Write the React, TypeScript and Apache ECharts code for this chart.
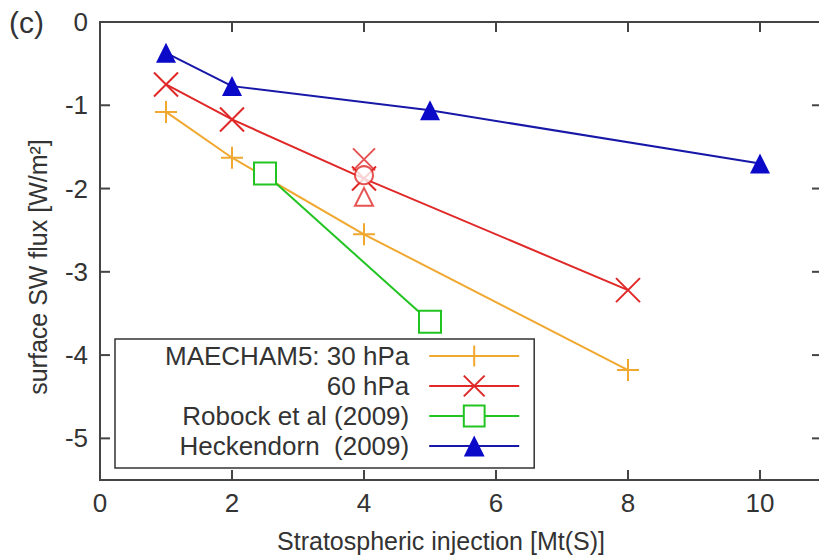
import React, { useEffect, useRef } from "react";
import * as echarts from "echarts";

const seriesNames = ["MAECHAM5: 30 hPa", "60 hPa", "Robock et al (2009)", "Heckendorn  (2009)"];
const hpa30: [number, number][] = [[1, -1.08], [2, -1.63], [4, -2.55], [8, -4.18]];
const hpa60: [number, number][] = [[1, -0.75], [2, -1.17], [4, -1.88], [8, -3.22]];
const robock: [number, number][] = [[2.5, -1.82], [5, -3.6]];
const heckendorn: [number, number][] = [[1, -0.37], [2, -0.77], [5, -1.06], [10, -1.7]];
const extraX: [number, number][] = [[4, -1.65]];
const extraCircle: [number, number][] = [[4, -1.84]];
const extraTriangle: [number, number][] = [[4, -2.1]];
const xTicks = [0, 2, 4, 6, 8, 10];
const yTicks = [0, -1, -2, -3, -4, -5];
const X_MIN = 0;
const X_MAX = 11;
const Y_MIN = -5.5;
const Y_MAX = 0;

const ORANGE = "#f0a830";
const RED = "#e02828";
const GREEN = "#22c422";
const BLUE = "#0a0ac8";
const AXIS = "#444";
const TXT = "#333";
const FONT = "Liberation Sans, Arial, sans-serif";

const PLUS = "path://M0,10L20,10M10,0L10,20";
const CROSS = "path://M0,0L20,20M20,0L0,20";
const TICK = 10;

export default function App() {
  const ref = useRef<HTMLDivElement>(null);
  useEffect(() => {
    if (!ref.current) return;
    const chart = echarts.init(ref.current, undefined, { renderer: "svg" });
    const tickStyle = { stroke: AXIS, lineWidth: 2 };
    chart.setOption({
      animation: false,
      backgroundColor: "#fff",
      textStyle: { fontFamily: FONT },
      grid: {
        left: 100,
        top: 22,
        width: 726,
        height: 458,
        outerBoundsMode: "none",
        containLabel: false,
        show: true,
        borderColor: AXIS,
        borderWidth: 2,
        backgroundColor: "transparent",
      },
      graphic: [
        {
          type: "text",
          left: 9,
          top: 7,
          style: { text: "(c)", fontSize: 30, fontFamily: FONT, fill: TXT },
        },
      ],
      xAxis: {
        type: "value",
        min: X_MIN,
        max: X_MAX,
        interval: 2,
        axisLine: { show: true, onZero: false, lineStyle: { color: AXIS, width: 2 } },
        axisTick: { show: false },
        splitLine: { show: false },
        name: "Stratospheric injection [Mt(S)]",
        nameLocation: "middle",
        nameGap: 48,
        nameTextStyle: { fontSize: 25, color: TXT, fontFamily: FONT, padding: [0, 44, 0, 0] },
        axisLabel: { fontSize: 26, color: TXT, margin: 10, showMaxLabel: false, fontFamily: FONT },
      },
      yAxis: {
        type: "value",
        min: Y_MIN,
        max: Y_MAX,
        splitNumber: 5,
        axisLine: { show: true, onZero: false, lineStyle: { color: AXIS, width: 2 } },
        axisTick: { show: false },
        splitLine: { show: false },
        name: "surface SW flux [W/m²]",
        nameLocation: "middle",
        nameGap: 50,
        nameTextStyle: { fontSize: 25, color: TXT, fontFamily: FONT, padding: [0, 32, 0, 0] },
        axisLabel: { fontSize: 26, color: TXT, margin: 12, showMinLabel: false, fontFamily: FONT },
      },
      legend: {
        orient: "vertical",
        left: 115,
        top: 339,
        align: "right",
        data: seriesNames,
        itemWidth: 90,
        itemHeight: 26,
        itemGap: 4,
        backgroundColor: "#fff",
        borderColor: "#333",
        borderWidth: 1.5,
        borderRadius: 0,
        padding: [4, 14, 9, 50],
        selectedMode: false,
        textStyle: { fontSize: 26, color: TXT, fontFamily: FONT, padding: [0, 15, 0, 0] },
        z: 10,
      },
      series: [
        {
          name: "x-ticks",
          type: "custom",
          silent: true,
          clip: false,
          data: xTicks.map((v) => [v, Y_MIN]),
          renderItem: (_p: any, api: any) => {
            const v = api.value(0);
            const b = api.coord([v, Y_MIN]);
            const t = api.coord([v, Y_MAX]);
            return {
              type: "group",
              children: [
                { type: "line", shape: { x1: b[0], y1: b[1], x2: b[0], y2: b[1] - TICK }, style: tickStyle },
                { type: "line", shape: { x1: t[0], y1: t[1], x2: t[0], y2: t[1] + TICK }, style: tickStyle },
              ],
            };
          },
          z: 1,
        },
        {
          name: "y-ticks",
          type: "custom",
          silent: true,
          clip: false,
          data: yTicks.map((v) => [X_MIN, v]),
          renderItem: (_p: any, api: any) => {
            const v = api.value(1);
            const l = api.coord([X_MIN, v]);
            const r = api.coord([X_MAX, v]);
            return {
              type: "group",
              children: [
                { type: "line", shape: { x1: l[0], y1: l[1], x2: l[0] + TICK, y2: l[1] }, style: tickStyle },
                { type: "line", shape: { x1: r[0], y1: r[1], x2: r[0] - 14, y2: r[1] }, style: tickStyle },
              ],
            };
          },
          z: 1,
        },
        {
          name: seriesNames[0],
          type: "line",
          data: hpa30,
          symbol: PLUS,
          symbolSize: 22,
          symbolKeepAspect: true,
          itemStyle: { color: "transparent", borderColor: ORANGE, borderWidth: 2 },
          lineStyle: { color: ORANGE, width: 2 },
          z: 3,
        },
        {
          name: seriesNames[1],
          type: "line",
          data: hpa60,
          symbol: CROSS,
          symbolSize: 24,
          symbolKeepAspect: true,
          itemStyle: { color: "transparent", borderColor: RED, borderWidth: 2 },
          lineStyle: { color: RED, width: 2 },
          z: 4,
        },
        {
          name: seriesNames[2],
          type: "line",
          data: robock,
          symbol: "emptyRect",
          symbolSize: 22,
          itemStyle: { color: GREEN, borderColor: GREEN, borderWidth: 2 },
          lineStyle: { color: GREEN, width: 2 },
          z: 3,
        },
        {
          name: seriesNames[3],
          type: "line",
          data: heckendorn,
          symbol: "triangle",
          symbolSize: 20,
          itemStyle: { color: BLUE },
          lineStyle: { color: "#1818a8", width: 2 },
          z: 5,
        },
        {
          name: "extra-x",
          type: "scatter",
          data: extraX,
          symbol: CROSS,
          symbolSize: 22,
          symbolKeepAspect: true,
          itemStyle: { color: "transparent", borderColor: RED, borderWidth: 2 },
          z: 4,
        },
        {
          name: "extra-circle",
          type: "scatter",
          data: extraCircle,
          symbol: "emptyCircle",
          symbolSize: 18,
          itemStyle: { color: RED, borderColor: RED, borderWidth: 2 },
          z: 4,
        },
        {
          name: "extra-triangle",
          type: "scatter",
          data: extraTriangle,
          symbol: "emptyTriangle",
          symbolSize: 18,
          itemStyle: { color: RED, borderColor: RED, borderWidth: 2 },
          z: 4,
        },
      ],
    });
    return () => chart.dispose();
  }, []);
  return (
    <div
      ref={ref}
      style={{ position: "absolute", left: 0, top: 0, width: 819, height: 560 }}
    />
  );
}
